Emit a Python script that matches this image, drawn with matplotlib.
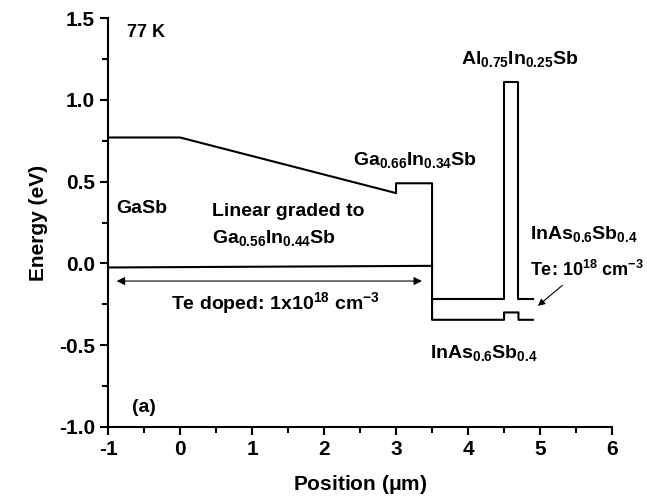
import numpy as np
import matplotlib
matplotlib.use("Agg")
import matplotlib.pyplot as plt
from matplotlib.ticker import MultipleLocator

# band edges (position in um, energy in eV)
cb_x = [-1, 0, 3, 3, 3.5, 3.5, 4.5, 4.5, 4.7, 4.7, 4.9]
cb_y = [0.77, 0.77, 0.43, 0.49, 0.49, -0.345, -0.345, -0.30, -0.30, -0.345, -0.345]
barrier_x = [3.5, 4.5, 4.5, 4.7, 4.7, 4.9]
barrier_y = [-0.215, -0.215, 1.11, 1.11, -0.215, -0.215]
fermi_x = [-1, 3.5]
fermi_y = [-0.025, -0.015]

x_ticks = [-1, 0, 1, 2, 3, 4, 5, 6]
y_ticks = [-1.0, -0.5, 0.0, 0.5, 1.0, 1.5]

plt.rcParams["font.family"] = "Liberation Sans"
plt.rcParams["font.weight"] = "bold"
plt.rcParams["axes.labelweight"] = "bold"
plt.rcParams["axes.unicode_minus"] = False
plt.rcParams["mathtext.fontset"] = "custom"
plt.rcParams["mathtext.rm"] = "Liberation Sans:bold"
plt.rcParams["mathtext.it"] = "Liberation Sans:bold"
plt.rcParams["mathtext.bf"] = "Liberation Sans:bold"
plt.rcParams["mathtext.default"] = "rm"

fig = plt.figure(figsize=(6.47, 5.04), dpi=100)
ax = fig.add_axes([0.167, 0.153, 0.779, 0.811])

lw = 1.5
ax.plot(cb_x, cb_y, color="black", lw=lw)
ax.plot(barrier_x, barrier_y, color="black", lw=lw)
ax.plot(fermi_x, fermi_y, color="black", lw=lw)

# doping range arrow
ax.annotate("", xy=(-0.88, -0.108), xytext=(3.36, -0.108),
            arrowprops=dict(arrowstyle="<|-|>", color="black", lw=0.8,
                            mutation_scale=12, shrinkA=0, shrinkB=0))
# pointer to InAsSb cap
ax.annotate("", xy=(4.97, -0.26), xytext=(5.31, -0.134),
            arrowprops=dict(arrowstyle="-|>", color="black", lw=0.8,
                            mutation_scale=10, shrinkA=0, shrinkB=0))

fs = 14
ax.text(-0.74, 1.41, "77 K", fontsize=13, va="center")
ax.text(-0.88, 0.335, "GaSb", fontsize=fs, va="center")
ax.text(0.44, 0.32, "Linear graded to", fontsize=fs, va="center")
ax.text(0.44, 0.155, "Ga$_{0.56}$In$_{0.44}$Sb", fontsize=fs, va="center")
ax.text(2.4, 0.63, "Ga$_{0.66}$In$_{0.34}$Sb", fontsize=fs, va="center")
ax.text(3.9, 1.25, "Al$_{0.75}$In$_{0.25}$Sb", fontsize=fs, va="center")
ax.text(4.86, 0.18, "InAs$_{0.6}$Sb$_{0.4}$", fontsize=fs, va="center")
ax.text(4.86, -0.04, "Te: 10$^{18}$ cm$^{-3}$", fontsize=13, va="center")
ax.text(-0.12, -0.245, "Te doped: 1x10$^{18}$ cm$^{-3}$", fontsize=fs, va="center")
ax.text(3.47, -0.55, "InAs$_{0.6}$Sb$_{0.4}$", fontsize=fs, va="center")
ax.text(-0.67, -0.88, "(a)", fontsize=fs, va="center")

ax.set_xlim(-1, 6)
ax.set_ylim(-1.0, 1.5)
ax.set_xticks(x_ticks)
ax.set_yticks(y_ticks)
ax.set_yticklabels([f"{v:.1f}" for v in y_ticks])
ax.xaxis.set_minor_locator(MultipleLocator(0.5))
ax.yaxis.set_minor_locator(MultipleLocator(0.25))

for side in ["top", "right"]:
    ax.spines[side].set_visible(False)
for side in ["left", "bottom"]:
    ax.spines[side].set_linewidth(1.5)
ax.tick_params(which="major", direction="out", length=6, width=1.5, labelsize=15)
ax.tick_params(which="minor", direction="out", length=4, width=1.5)

ax.set_xlabel("Position ($\\mu$m)", fontsize=15, labelpad=10)
ax.set_ylabel("Energy (eV)", fontsize=15, labelpad=8)

fig.savefig("out.png", dpi=100)
